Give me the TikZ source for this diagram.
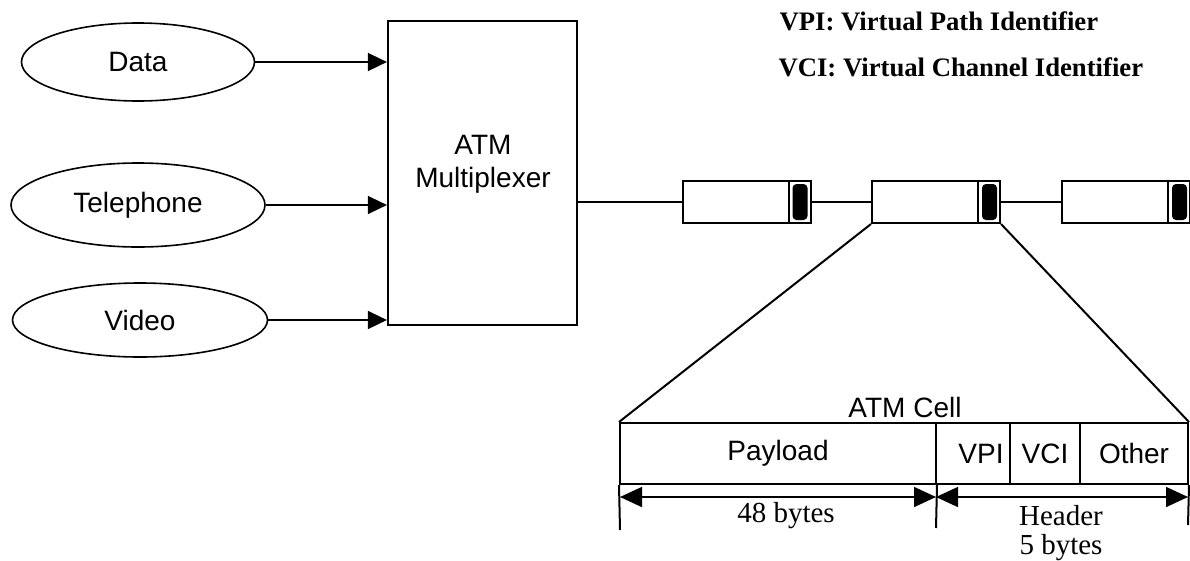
\documentclass[tikz,border=0pt]{standalone}
\usepackage{fontspec}
\setmainfont{Liberation Serif}
\newfontfamily\arialfont{Liberation Sans}
\usetikzlibrary{arrows.meta,shapes.geometric,calc}
\begin{document}
\begin{tikzpicture}[x=1pt,y=-1pt,
  sans/.style={font=\arialfont\fontsize{28}{33}\selectfont},
  serif/.style={font=\fontsize{29}{29}\selectfont},
  legend/.style={font=\bfseries\fontsize{26.7}{29}\selectfont, anchor=base west},
  src/.style={draw, ellipse, line width=1.6pt, inner sep=0pt, sans},
  arr/.style={line width=1.6pt, -{Triangle[length=19pt,width=18pt]}},
  dimarr/.style={line width=1.6pt, {Triangle[length=22pt,width=20pt]}-{Triangle[length=22pt,width=20pt]}},
  cellbox/.style={draw, line width=2pt, minimum width=128pt, minimum height=42pt, inner sep=0pt},
  field/.style={draw, line width=2pt, minimum height=61pt, inner sep=0pt, sans},
  plain/.style={line width=2pt}
]
\useasboundingbox (0,0) rectangle (1190,560);

% sources
\node[src, minimum width=233pt, minimum height=78pt] (data) at (138,62) {Data};
\node[src, minimum width=254pt, minimum height=84pt] (tel) at (138,205) {Telephone};
\node[src, minimum width=255pt, minimum height=74pt] (video) at (140,320) {Video};

% multiplexer
\node[draw, line width=2.2pt, minimum width=189pt, minimum height=304pt, inner sep=0pt] (mux) at (482.5,173) {};
\node[sans, align=center] (muxlabel) at (483,164) {ATM\\Multiplexer};

\draw[arr] (data.east) -- (data.east -| mux.west);
\draw[arr] (tel.east) -- (tel.east -| mux.west);
\draw[arr] (video.east) -- (video.east -| mux.west);

% cells on the line
\node[cellbox] (c1) at (746.5,202) {};
\node[cellbox] (c2) at (936,202) {};
\node[cellbox] (c3) at (1126,202) {};
\foreach \c in {c1,c2,c3}{
  \draw[plain] ($(\c.north east)+(-23,0)$) -- ($(\c.south east)+(-23,0)$);
  \fill[black, rounded corners=4pt] ($(\c.north east)+(-19,4)$) rectangle ($(\c.south east)+(-4,-4)$);
}
\draw[plain] (c1.west -| mux.east) -- (c1.west);
\draw[plain] (c1.east) -- (c2.west);
\draw[plain] (c2.east) -- (c3.west);

% ATM cell
\node[sans] (celltitle) at (905,407) {ATM Cell};
\node[field, minimum width=316pt] (payload) at (778,453.5) {Payload};
\node[field, minimum width=74pt] (vpi) at (973,453.5) {};
\node[sans] (vpitext) at (981,453.5) {VPI};
\node[field, minimum width=70pt] (vci) at (1045,453.5) {VCI};
\node[field, minimum width=108pt] (other) at (1134,453.5) {Other};

\draw[plain] (c2.south west) -- (payload.north west);
\draw[plain] (c2.south east) -- (other.north east);

% dimensions
\coordinate (t0) at (620,530);
\coordinate (t1) at (936,528);
\coordinate (t2) at (1188,525);
\coordinate (d0) at (620,497);
\coordinate (d1) at (936,497);
\coordinate (d2) at (1188,497);
\draw[plain] (payload.south west) -- (t0);
\draw[plain] (payload.south east) -- (t1);
\draw[plain] (other.south east) -- (t2);
\draw[dimarr] (d0) -- (d1);
\draw[dimarr] (d1) -- (d2);
\node[serif] (pbytes) at (786,516) {48 bytes};
\node[serif, align=center] (hbytes) at (1061,533) {Header\\5 bytes};

% legend
\node[legend] (leg1) at (776,30) {VPI: Virtual Path Identifier};
\node[legend] (leg2) at (775,76) {VCI: Virtual Channel Identifier};
\end{tikzpicture}
\end{document}
